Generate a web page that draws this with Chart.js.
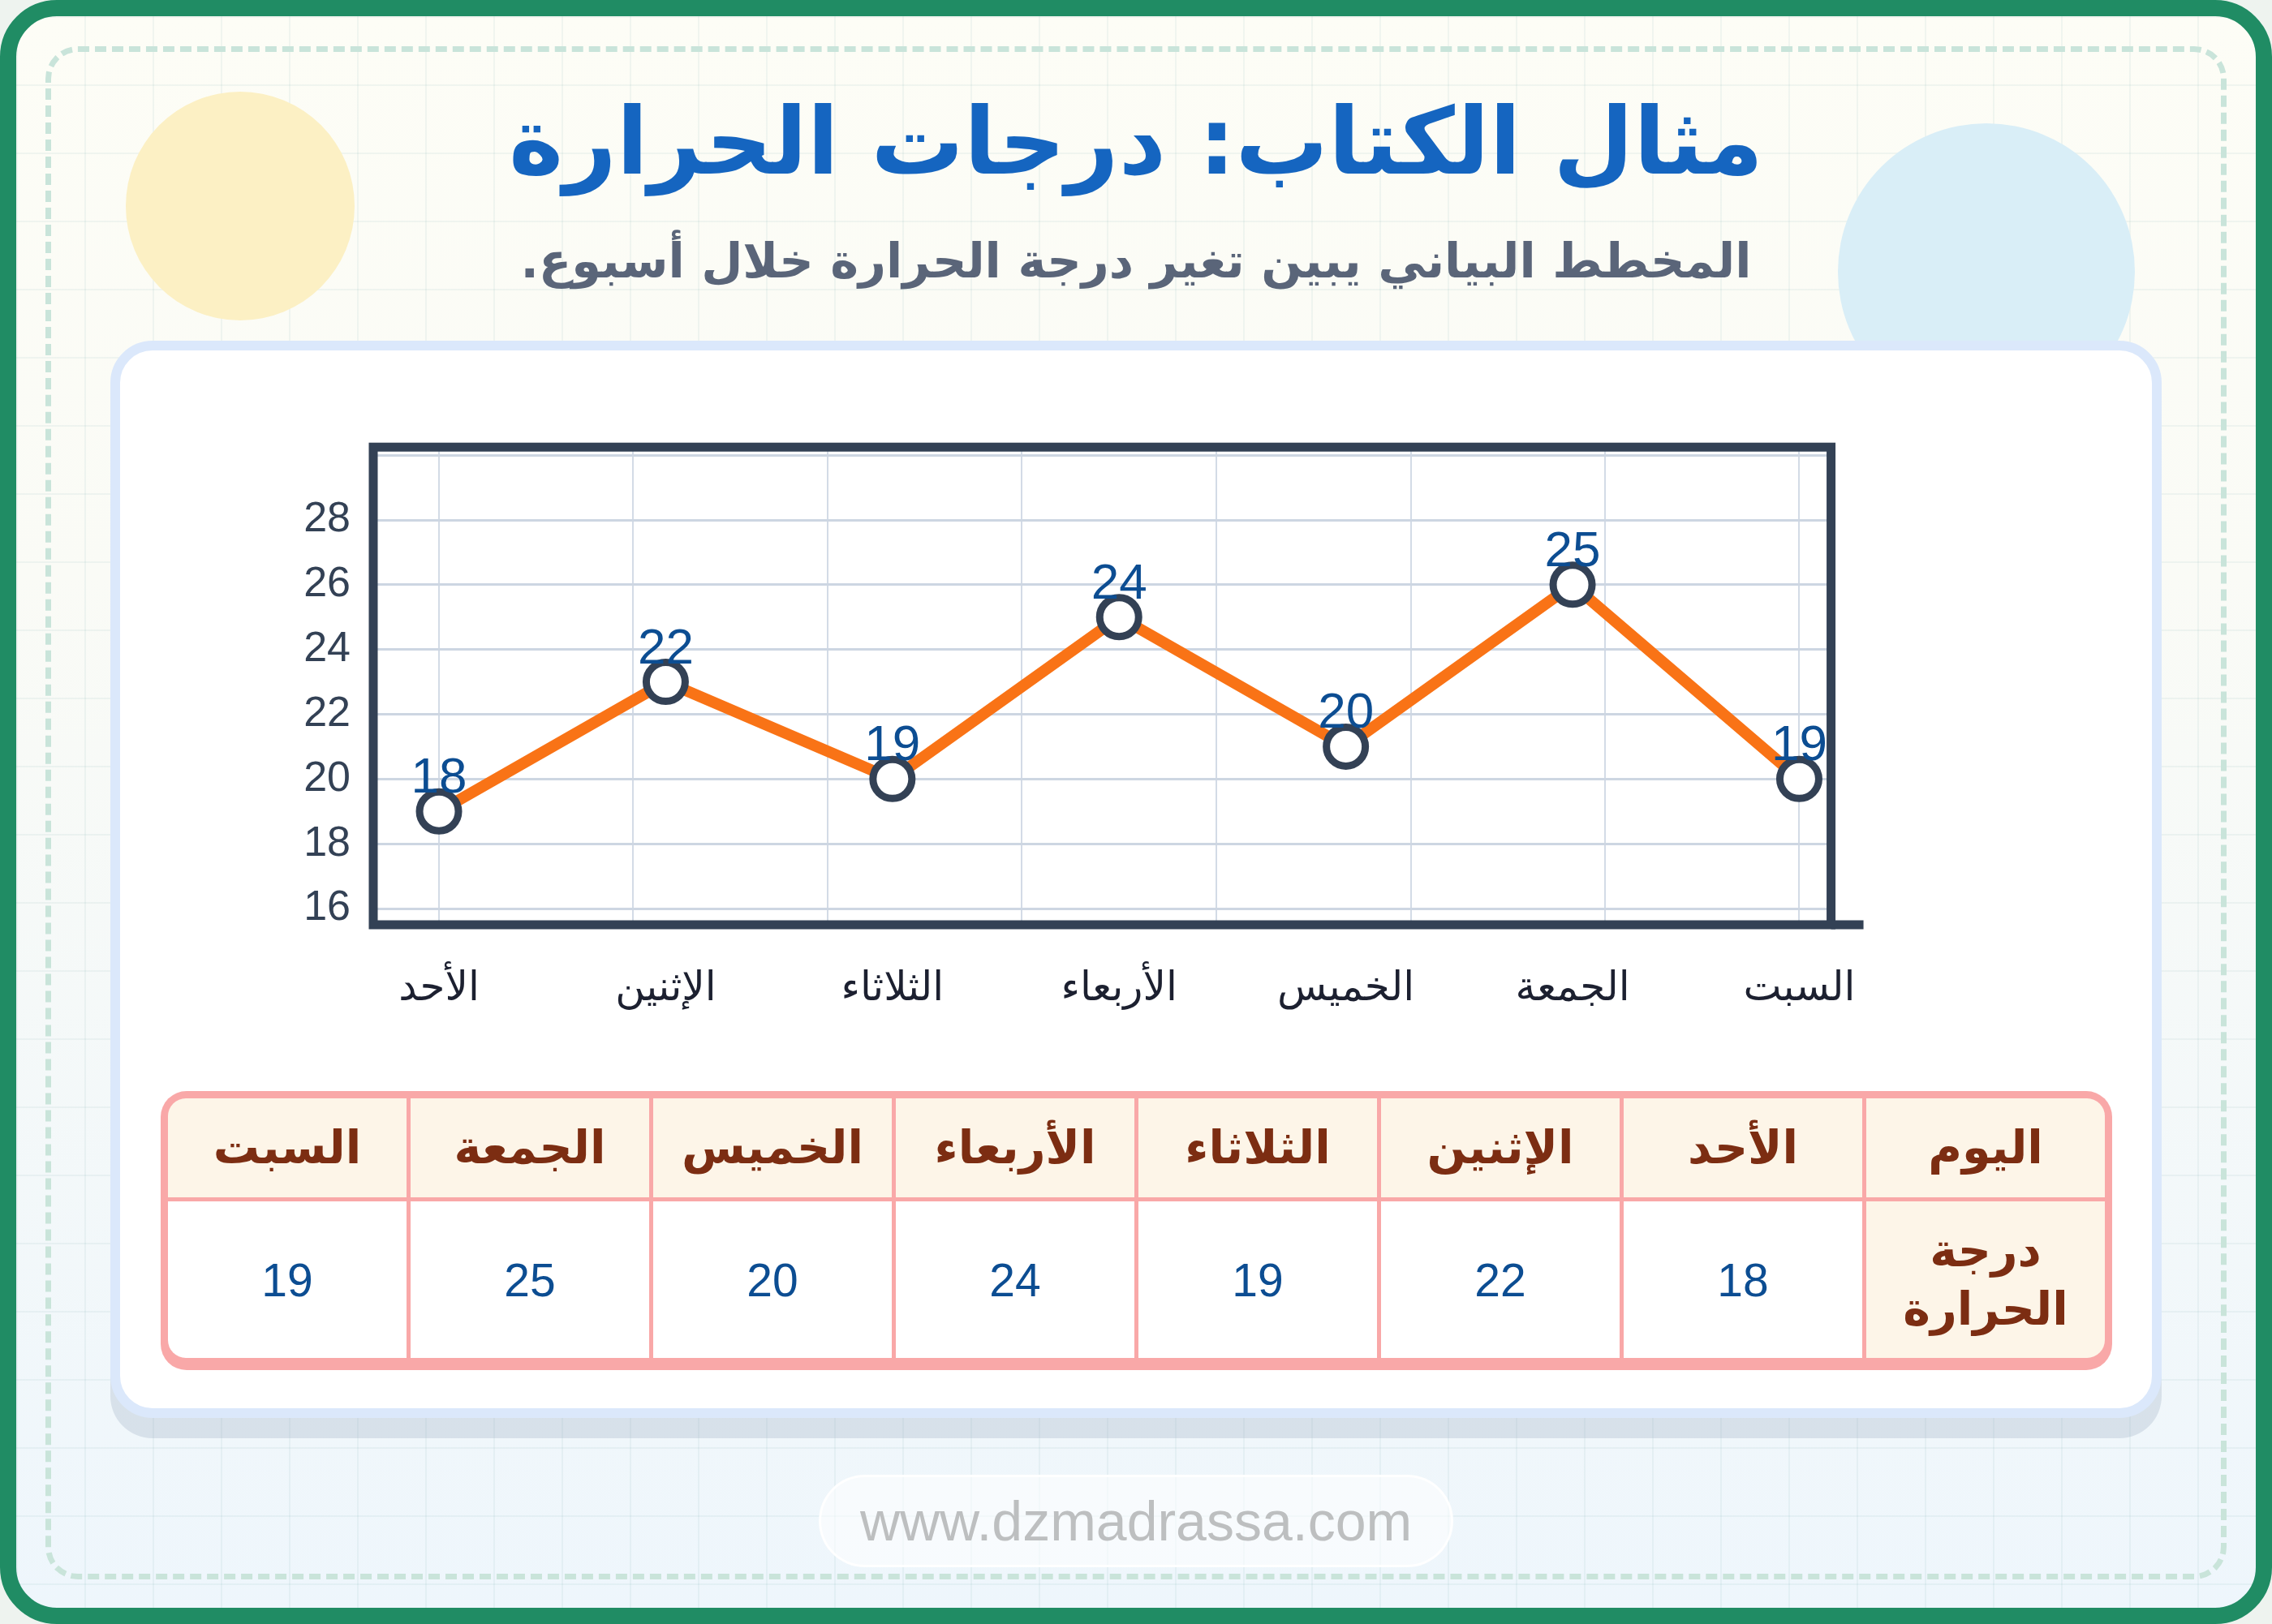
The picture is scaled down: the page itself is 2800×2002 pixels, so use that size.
<!DOCTYPE html>
<html lang="ar">
<head>
<meta charset="utf-8">
<title>مثال الكتاب: درجات الحرارة</title>
<script src="https://cdn.jsdelivr.net/npm/chart.js@4.4.1/dist/chart.umd.min.js"></script>
<style>
  html, body { margin: 0; padding: 0; }
  body {
    position: relative;
    width: 2800px;
    height: 2002px;
    overflow: hidden;
    background: #eef3ef;
    font-family: "DejaVu Sans", sans-serif;
  }
  .frame {
    position: absolute; left: 0; top: 0;
    width: 2800px; height: 2002px;
    box-sizing: border-box;
    border: 20px solid #208c64;
    border-radius: 70px;
    background-color: #f8faf7;
    background-image:
      linear-gradient(rgba(40, 120, 120, 0.06) 2px, transparent 2px),
      linear-gradient(90deg, rgba(40, 120, 120, 0.06) 2px, transparent 2px),
      linear-gradient(180deg, #fdfdf6 0%, #fafbf6 35%, #eef6fc 100%);
    background-size: 84px 84px, 84px 84px, 100% 100%;
  }
  .dashed {
    position: absolute; left: 56px; top: 57px;
    width: 2688px; height: 1890px;
    box-sizing: border-box;
    border: 7px dashed #c9e4da;
    border-radius: 40px;
  }
  .sun, .bubble { position: absolute; border-radius: 50%; }
  .sun { left: 155px; top: 113px; width: 282px; height: 282px; background: #fcf0c4; }
  .bubble { left: 2265px; top: 152px; width: 366px; height: 366px; background: #d9eef7; }
  .title {
    position: absolute; left: 0; top: 118px; width: 2800px;
    text-align: center; direction: rtl;
    font-size: 114px; line-height: 1; font-weight: bold;
    color: #1565c0;
  }
  .subtitle {
    position: absolute; left: 0; top: 292px; width: 2800px;
    text-align: center; direction: rtl;
    font-size: 59px; line-height: 1; font-weight: bold;
    color: #5a6579;
  }
  .card {
    position: absolute; left: 136px; top: 420px;
    width: 2528px; height: 1328px;
    box-sizing: border-box;
    background: #fff;
    border: 12px solid #dbe8fb;
    border-radius: 52px;
    box-shadow: 0 25px 0 rgba(150, 170, 190, 0.28);
  }
  #tempChart { position: absolute; left: 300px; top: 492px; }
  .table {
    position: absolute; left: 198px; top: 1345px;
    width: 2405px; height: 344px;
    box-sizing: border-box;
    padding: 9px 9px 15px;
    background: #f9a8a8;
    border-radius: 32px;
    display: grid;
    grid-template-columns: repeat(8, 1fr);
    grid-template-rows: 122px 1fr;
    gap: 5px;
    direction: rtl;
  }
  .cell {
    display: flex; align-items: center; justify-content: center;
    text-align: center;
    background: #fff;
    font-family: "Liberation Sans", Arial, sans-serif;
    font-size: 57px;
    color: #0c4d92;
  }
  .cell.head {
    background: #fdf5e8;
    color: #7c2d12;
    font-family: "DejaVu Sans", sans-serif;
    font-weight: bold;
    font-size: 57px;
    line-height: 1.25;
  }
  .footer {
    position: absolute; left: 1009px; top: 1818px;
    width: 782px; height: 114px;
    box-sizing: border-box;
    border: 3px solid rgba(255, 255, 255, 0.9);
    border-radius: 57px;
    background: rgba(255, 255, 255, 0.55);
    text-align: center;
    line-height: 108px;
    font-family: "Liberation Sans", Arial, sans-serif;
    font-size: 68px;
    color: #bdbfc0;
  }
</style>
</head>
<body>
  <div class="frame"></div>
  <div class="dashed"></div>
  <div class="sun"></div>
  <div class="bubble"></div>
  <div class="title">مثال الكتاب: درجات الحرارة</div>
  <div class="subtitle">المخطط البياني يبين تغير درجة الحرارة خلال أسبوع.</div>
  <div class="card"></div>
  <canvas id="tempChart" width="2030" height="768" dir="ltr"></canvas>
  <div class="table" id="tempTable"></div>
  <div class="footer">www.dzmadrassa.com</div>

<script>
// Days of the week, left to right on the chart
const days = ["الأحد", "الإثنين", "الثلاثاء", "الأربعاء", "الخميس", "الجمعة", "السبت"];
// Temperatures printed above the markers and in the table
const temps = [18, 22, 19, 24, 20, 25, 19];
// Where the markers sit against the y axis in the reference (one degree above the printed value)
const plotted = [19, 23, 20, 25, 21, 26, 20];
// Y axis labels and grid lines
const yTicks = [16, 18, 20, 22, 24, 26, 28];
const yGrid = [16, 18, 20, 22, 24, 26, 28, 30];
// Vertical grid lines (8 lines spread over the 7 days)
const xGrid = [0, 0.857, 1.714, 2.571, 3.429, 4.286, 5.143, 6];
// Table texts
const tableHead = "اليوم";
const tableRowTitle = ["درجة", "الحرارة"];

/** Build the table under the chart */
function buildTable() {
  const table = document.getElementById("tempTable");
  const cells = [];
  cells.push(`<div class="cell head" style="border-top-right-radius:22px">${tableHead}</div>`);
  days.forEach((day, i) => {
    const corner = i === days.length - 1 ? ' style="border-top-left-radius:22px"' : "";
    cells.push(`<div class="cell head"${corner}>${day}</div>`);
  });
  cells.push(`<div class="cell head" style="border-bottom-right-radius:22px">${tableRowTitle.join("<br>")}</div>`);
  temps.forEach((t, i) => {
    const corner = i === temps.length - 1 ? ' style="border-bottom-left-radius:22px"' : "";
    cells.push(`<div class="cell"${corner}>${t}</div>`);
  });
  table.innerHTML = cells.join("");
}

/** Dark frame around the plot area */
const framePlugin = {
  id: "frame",
  afterDraw(chart) {
    const { ctx, chartArea: a } = chart;
    ctx.save();
    ctx.strokeStyle = "#334155";
    ctx.lineWidth = 11;
    ctx.strokeRect(a.left, a.top, a.right - a.left, a.bottom - a.top);
    // bottom axis line runs a little past the frame
    ctx.beginPath();
    ctx.moveTo(a.right, a.bottom);
    ctx.lineTo(a.right + 40, a.bottom);
    ctx.stroke();
    ctx.restore();
  },
};

/** Value labels above each marker */
const valueLabels = {
  id: "valueLabels",
  afterDatasetsDraw(chart) {
    const { ctx } = chart;
    const points = chart.getDatasetMeta(0).data;
    ctx.save();
    ctx.font = '62px "Liberation Sans", Arial, sans-serif';
    ctx.fillStyle = "#0c4d92";
    ctx.textAlign = "center";
    ctx.textBaseline = "alphabetic";
    points.forEach((pt, i) => {
      ctx.fillText(String(temps[i]), pt.x, pt.y - 23);
    });
    ctx.restore();
  },
};

function renderChart() {
  const ctx = document.getElementById("tempChart").getContext("2d");
  new Chart(ctx, {
    type: "line",
    data: {
      datasets: [
        {
          data: plotted.map((v, i) => ({ x: i, y: v })),
          borderColor: "#f97316",
          borderWidth: 14,
          tension: 0,
          pointRadius: 24,
          pointHoverRadius: 24,
          pointBorderWidth: 9,
          pointBackgroundColor: "#ffffff",
          pointBorderColor: "#334155",
          clip: false,
        },
      ],
    },
    options: {
      responsive: false,
      animation: false,
      devicePixelRatio: 1,
      layout: { autoPadding: false, padding: { top: 0, right: 70, left: 0, bottom: 0 } },
      plugins: {
        legend: { display: false },
        tooltip: { enabled: false },
      },
      scales: {
        x: {
          type: "linear",
          min: -0.29,
          max: 6.14,
          afterBuildTicks: (s) => {
            s.ticks = days.map((d, i) => ({ value: i }));
          },
          afterFit: (s) => {
            s.height = 120;
          },
          grid: { display: false },
          border: { display: false },
          ticks: {
            callback: (v) => days[v],
            autoSkip: false,
            maxRotation: 0,
            padding: 42,
            color: "#1c2030",
            font: { size: 50, family: "DejaVu Sans" },
          },
        },
        xGrid: {
          type: "linear",
          position: "top",
          min: -0.29,
          max: 6.14,
          afterBuildTicks: (s) => {
            s.ticks = xGrid.map((v) => ({ value: v }));
          },
          afterFit: (s) => {
            s.height = 0;
          },
          ticks: { display: false },
          grid: { color: "#d3dbe6", lineWidth: 2, drawTicks: false },
          border: { display: false },
        },
        y: {
          min: 15.5,
          max: 30.25,
          afterBuildTicks: (s) => {
            s.ticks = yGrid.map((v) => ({ value: v }));
          },
          afterFit: (s) => {
            s.width = 160;
          },
          grid: { color: "#cdd6e2", lineWidth: 3, drawTicks: false },
          border: { display: false },
          ticks: {
            callback: (v) => (yTicks.includes(v) ? String(v) : ""),
            padding: 28,
            color: "#334155",
            font: { size: 52, family: "Liberation Sans" },
          },
        },
      },
    },
    plugins: [framePlugin, valueLabels],
  });
}

buildTable();
renderChart();
</script>
</body>
</html>
